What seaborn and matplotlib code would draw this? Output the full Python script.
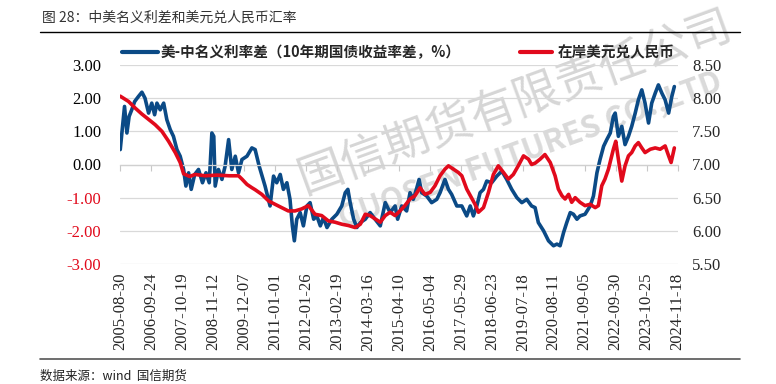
import numpy as np
import pandas as pd
import matplotlib
matplotlib.use('Agg')
import matplotlib.pyplot as plt
from matplotlib.lines import Line2D
import seaborn as sns

sns.set_theme(style='white')
plt.rcParams['font.family'] = ['Noto Sans CJK SC', 'DejaVu Sans']

BLUE = '#0b4a86'
RED = '#e10a1c'
SERIF = 'Liberation Serif'

# 美-中名义利率差 (%)
spread_dates = [
    '2005-08-30', '2005-09-28', '2005-10-23', '2005-11-22', '2005-12-20', '2006-01-22', '2006-02-28',
    '2006-04-16', '2006-05-30', '2006-07-08', '2006-08-22', '2006-10-01', '2006-11-06', '2006-12-05',
    '2007-01-15', '2007-02-28', '2007-04-09', '2007-05-22', '2007-07-01', '2007-08-14', '2007-09-24',
    '2007-11-06', '2007-12-05', '2008-01-08', '2008-02-10', '2008-03-25', '2008-05-12', '2008-07-01',
    '2008-08-14', '2008-09-24', '2008-10-27', '2008-11-20', '2008-12-08', '2009-01-18', '2009-03-03',
    '2009-04-12', '2009-05-26', '2009-07-05', '2009-08-18', '2009-09-28', '2009-11-10', '2010-01-12',
    '2010-03-15', '2010-04-25', '2010-06-15', '2010-08-28', '2010-10-30', '2010-12-13', '2011-01-22',
    '2011-03-07', '2011-04-16', '2011-05-30', '2011-07-08', '2011-08-07', '2011-09-01', '2011-10-01',
    '2011-11-13', '2011-12-24', '2012-02-06', '2012-03-17', '2012-05-01', '2012-06-10', '2012-07-24',
    '2012-09-01', '2012-10-16', '2012-12-16', '2013-02-17', '2013-04-20', '2013-06-03', '2013-07-06',
    '2013-08-04', '2013-09-17', '2013-10-27', '2013-12-10', '2014-02-10', '2014-04-12', '2014-06-14',
    '2014-08-18', '2014-10-20', '2014-12-20', '2015-02-21', '2015-03-25', '2015-05-15', '2015-07-16',
    '2015-08-28', '2015-10-08', '2015-11-22', '2015-12-20', '2016-01-22', '2016-03-25', '2016-05-26',
    '2016-07-30', '2016-09-09', '2016-11-10', '2016-12-24', '2017-02-02', '2017-04-08', '2017-06-10',
    '2017-08-11', '2017-09-24', '2017-11-03', '2017-12-16', '2018-01-26', '2018-03-10', '2018-04-20',
    '2018-06-21', '2018-08-25', '2018-10-27', '2018-12-28', '2019-03-01', '2019-05-05', '2019-07-06',
    '2019-09-06', '2019-11-06', '2019-12-20', '2020-01-30', '2020-04-05', '2020-06-06', '2020-08-08',
    '2020-09-20', '2020-10-30', '2020-12-13', '2021-01-22', '2021-03-07', '2021-04-16', '2021-05-30',
    '2021-07-08', '2021-09-09', '2021-11-13', '2021-12-24', '2022-02-06', '2022-03-17', '2022-05-01',
    '2022-06-10', '2022-07-24', '2022-09-01', '2022-09-24', '2022-11-03', '2022-12-16', '2023-01-26',
    '2023-03-10', '2023-04-20', '2023-06-03', '2023-07-13', '2023-08-25', '2023-10-05', '2023-11-18',
    '2023-12-28', '2024-02-10', '2024-03-21', '2024-05-04', '2024-06-14', '2024-07-28', '2024-09-06',
    '2024-10-08',
]
spread_vals = [
    0.45, 1.15, 1.75, 0.95, 1.45, 1.65, 1.90,
    2.05, 2.18, 2.00, 1.55, 1.85, 1.50, 1.85,
    1.65, 1.85, 1.35, 1.05, 0.85, 0.45, 0.25,
    -0.15, -0.65, -0.25, -0.75, -0.30, -0.15, -0.55,
    -0.25, -0.55, 0.95, 0.85, -0.65, -0.15, -0.45,
    -0.05, 0.75, -0.15, 0.25, -0.25, 0.15, 0.25,
    0.50, 0.45, -0.05, -0.65, -1.25, -0.35, -0.55,
    -0.30, -0.75, -0.55, -1.05, -1.85, -2.30, -1.65,
    -1.45, -1.85, -1.25, -1.15, -1.65, -1.55, -1.85,
    -1.60, -1.90, -1.65, -1.50, -1.25, -0.85, -0.75,
    -1.15, -1.65, -1.90, -1.75, -1.65, -1.45, -1.65,
    -1.85, -1.15, -1.45, -1.25, -1.65, -1.25, -1.40,
    -0.85, -1.05, -0.70, -0.45, -0.85, -0.95, -1.15,
    -1.05, -0.85, -0.45, -0.75, -0.90, -1.25, -1.25,
    -1.55, -1.25, -1.55, -1.25, -0.85, -0.75, -0.50,
    -0.55, -0.35, -0.20, -0.45, -0.75, -1.00, -1.15,
    -1.05, -1.25, -1.30, -1.75, -2.00, -2.30, -2.45,
    -2.40, -2.45, -2.05, -1.75, -1.45, -1.50, -1.65,
    -1.55, -1.50, -1.25, -0.95, -0.25, 0.15, 0.55,
    0.75, 0.95, 1.45, 1.55, 0.85, 1.15, 0.60,
    0.85, 1.15, 1.55, 1.95, 2.25, 1.85, 1.25,
    1.85, 2.15, 2.40, 2.15, 1.95, 1.55, 2.05,
    2.35,
]

# 在岸美元兑人民币
fx_dates = [
    '2005-08-30', '2005-12-13', '2006-03-07', '2006-05-30', '2006-08-22', '2006-11-13', '2007-02-06',
    '2007-05-01', '2007-07-24', '2007-09-24', '2007-11-06', '2008-01-20', '2008-04-01', '2008-08-01',
    '2009-01-01', '2009-06-01', '2009-09-28', '2009-11-10', '2010-01-12', '2010-03-15', '2010-04-25',
    '2010-07-18', '2010-10-12', '2011-01-01', '2011-03-25', '2011-06-17', '2011-09-09', '2011-12-01',
    '2012-02-24', '2012-05-18', '2012-08-10', '2012-11-02', '2013-01-26', '2013-04-20', '2013-07-13',
    '2013-10-05', '2013-12-10', '2014-02-10', '2014-04-12', '2014-06-14', '2014-08-18', '2014-10-20',
    '2014-12-20', '2015-02-21', '2015-04-23', '2015-06-24', '2015-08-28', '2015-10-30', '2016-01-01',
    '2016-03-03', '2016-05-08', '2016-07-08', '2016-09-09', '2016-11-10', '2016-12-24', '2017-02-24',
    '2017-04-27', '2017-06-10', '2017-08-11', '2017-11-24', '2018-01-05', '2018-03-10', '2018-05-12',
    '2018-07-13', '2018-09-13', '2018-11-17', '2019-01-18', '2019-03-21', '2019-05-22', '2019-07-27',
    '2019-09-28', '2019-11-06', '2019-12-20', '2020-02-21', '2020-04-22', '2020-06-28', '2020-08-28',
    '2020-10-08', '2020-11-22', '2021-01-01', '2021-02-14', '2021-03-25', '2021-05-08', '2021-07-08',
    '2021-09-09', '2021-11-13', '2022-01-15', '2022-02-24', '2022-04-08', '2022-05-18', '2022-07-01',
    '2022-09-01', '2022-10-01', '2022-11-03', '2022-12-16', '2023-01-26', '2023-03-10', '2023-04-20',
    '2023-06-03', '2023-07-13', '2023-08-25', '2023-10-05', '2023-12-10', '2024-02-10', '2024-04-12',
    '2024-06-14', '2024-07-28', '2024-08-28', '2024-10-08',
]
fx_vals = [
    8.03, 7.95, 7.85, 7.76, 7.68, 7.60, 7.50,
    7.35, 7.18, 7.03, 6.86, 6.82, 6.85, 6.83,
    6.84, 6.83, 6.83, 6.78, 6.70, 6.65, 6.62,
    6.55, 6.45, 6.40, 6.35, 6.30, 6.30, 6.33,
    6.38, 6.25, 6.23, 6.15, 6.13, 6.10, 6.08,
    6.05, 6.10, 6.25, 6.23, 6.18, 6.13, 6.23,
    6.28, 6.23, 6.30, 6.38, 6.48, 6.53, 6.65,
    6.55, 6.58, 6.68, 6.83, 6.93, 6.98, 6.93,
    6.88, 6.83, 6.63, 6.40, 6.28, 6.35, 6.58,
    6.85, 6.98, 6.88, 6.78, 6.85, 6.98, 7.13,
    7.08, 7.00, 7.02, 7.08, 7.15, 7.03, 6.83,
    6.63, 6.53, 6.48, 6.55, 6.43, 6.50, 6.43,
    6.38, 6.40, 6.35, 6.38, 6.68, 6.78, 6.93,
    7.23, 7.35, 7.08, 6.75, 6.98, 7.13, 7.18,
    7.28, 7.33, 7.25, 7.18, 7.23, 7.25, 7.23,
    7.28, 7.13, 7.03, 7.25,
]

tick_dates = [
    '2005-08-30', '2006-09-24', '2007-10-19', '2008-11-12', '2009-12-07', '2011-01-01', '2012-01-26',
    '2013-02-19', '2014-03-16', '2015-04-10', '2016-05-04', '2017-05-29', '2018-06-23', '2019-07-18',
    '2020-08-11', '2021-09-05', '2022-09-30', '2023-10-25', '2024-11-18',
]
left_ticks = [-3, -2, -1, 0, 1, 2, 3]
right_ticks = [5.5, 6.0, 6.5, 7.0, 7.5, 8.0, 8.5]

label_spread = '美-中名义利率差（10年期国债收益率差，%）'
label_fx = '在岸美元兑人民币'

df_spread = pd.DataFrame({'date': pd.to_datetime(spread_dates), 'value': spread_vals})
df_fx = pd.DataFrame({'date': pd.to_datetime(fx_dates), 'value': fx_vals})
ticks = pd.to_datetime(tick_dates)

W, H = 776, 384
fig = plt.figure(figsize=(W / 100, H / 100), dpi=100)
ax = fig.add_axes([120 / W, 1 - 264 / H, 558 / W, 199 / H])
ax2 = ax.twinx()

sns.lineplot(data=df_spread, x='date', y='value', ax=ax, color=BLUE, lw=2.6, legend=False)
sns.lineplot(data=df_fx, x='date', y='value', ax=ax2, color=RED, lw=2.6, legend=False)

ax.set_xlim(ticks[0] - pd.Timedelta(days=3), ticks[-1] + pd.Timedelta(days=5))
ax.set_ylim(-3, 3)
ax2.set_ylim(5.5, 8.5)

ax.set_yticks(left_ticks, labels=[f'{t:.2f}' for t in left_ticks])
ax2.set_yticks(right_ticks, labels=[f'{t:.2f}' for t in right_ticks])
ax.set_xticks(ticks, labels=[d.strftime('%Y-%m-%d') for d in ticks])

ax.tick_params(axis='x', direction='out', length=4, width=0.8, color='#c8c8c8', pad=74,
               bottom=True, labelrotation=90, labelfontfamily=SERIF, labelsize=12)
ax.tick_params(axis='y', length=0, pad=13.5, labelfontfamily=SERIF, labelsize=12)
ax2.tick_params(axis='y', length=0, pad=10, labelfontfamily=SERIF, labelsize=12)

fig.canvas.draw()
for t, lab in zip(left_ticks, ax.get_yticklabels()):
    lab.set_color(RED if t < 0 else 'black')

ax.grid(axis='y', color='#d9d9d9', lw=0.9)
ax.grid(axis='x', visible=False)
ax2.grid(False)

for a in (ax, ax2):
    for s in a.spines.values():
        s.set_visible(False)
ax.spines['bottom'].set_visible(True)
ax.spines['bottom'].set_position(('data', 0))
ax.spines['bottom'].set_color('#d0d0d0')
ax.spines['bottom'].set_linewidth(0.9)

ax.set_xlabel('')
ax.set_ylabel('')
ax2.set_ylabel('')

# watermark
ax.text(515 / W, 1 - 102 / H, '国信期货有限责任公司', transform=fig.transFigure, rotation=20,
        fontsize=33, color='#d6d6d6', ha='center', va='center', zorder=0.5, clip_on=False)
ax.text(530 / W, 1 - 150 / H, 'GUOSEN FUTURES CO.,LTD', transform=fig.transFigure, rotation=20,
        fontsize=22, fontweight='bold', color='#dadada', ha='center', va='center', zorder=0.5,
        clip_on=False)

# legends
leg_font = {'family': ['Noto Sans CJK SC', 'DejaVu Sans'], 'size': 10.5, 'weight': 'bold'}
h1 = Line2D([], [], color=BLUE, lw=3)
h2 = Line2D([], [], color=RED, lw=3)
fig.legend([h1], [label_spread], loc='center left', bbox_to_anchor=(122 / W, 1 - 52 / H),
           frameon=False, prop=leg_font, handlelength=2.5, handletextpad=0.15, borderpad=0,
           borderaxespad=0)
fig.legend([h2], [label_fx], loc='center left', bbox_to_anchor=(520 / W, 1 - 52 / H),
           frameon=False, prop=leg_font, handlelength=2.2, handletextpad=0.4, borderpad=0,
           borderaxespad=0)

# title, rules and source
fig.text(42 / W, 1 - 18 / H, '图 28：中美名义利差和美元兑人民币汇率', fontsize=10, color='#333333',
         va='center', ha='left')
fig.add_artist(Line2D([40 / W, 740 / W], [1 - 32 / H] * 2, color='black', lw=1))
fig.add_artist(Line2D([40 / W, 740 / W], [1 - 359 / H] * 2, color='#555555', lw=1.2))
fig.text(40 / W, 1 - 376 / H, '数据来源：wind  国信期货', fontsize=9, color='#222222',
         va='center', ha='left')

fig.savefig('out.png', dpi=100)
